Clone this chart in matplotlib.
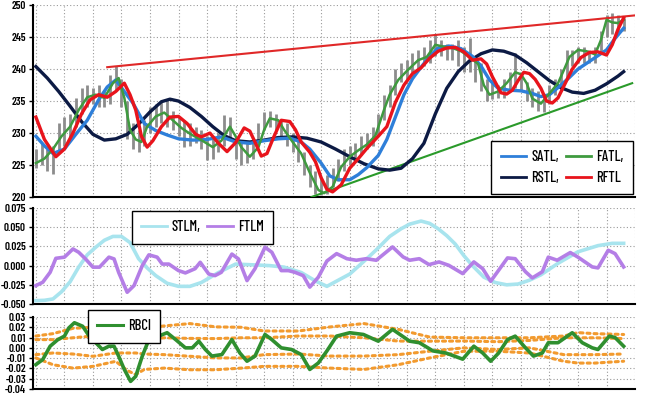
import numpy as np
import matplotlib
matplotlib.use('Agg')
import matplotlib.pyplot as plt
from matplotlib.lines import Line2D

plt.rcParams['font.family'] = ['Barlow Condensed', 'DejaVu Sans']

# ---------------- price bars (every 2nd bar): low / high ----------------
bar_low = [224.5, 225, 224, 223.6, 227, 228, 229, 231, 233, 234,
           234.5, 234, 234, 234.5, 236.5, 234, 229, 227.5, 227, 228,
           230, 231, 231.5, 231, 230.5, 229.5, 227.8, 228, 228.5, 227.5,
           225.8, 226, 227, 228, 229, 226, 225, 225.3, 226, 228,
           230.5, 231, 230.5, 229.5, 228, 227, 225.5, 223.5, 221.5, 220.5,
           220.3, 220.5, 221.5, 222.5, 224, 225, 225.5, 226.5, 227.5, 228,
           229.5, 232, 234, 236, 238, 238.5, 239.5, 240, 240.5, 241,
           242, 242, 241.5, 241.5, 240.5, 239.5, 239.5, 238, 236.5, 235,
           235.3, 235.5, 235.5, 236.5, 237, 236.5, 235, 234, 233.5, 233.3,
           234.5, 236, 236.5, 238.5, 240.5, 241, 241, 241, 241, 242.5,
           245, 245.5, 245.5, 246]
bar_high = [227.5, 228.5, 227.5, 228, 231.5, 232.5, 233, 235.5, 237, 237.5,
            237, 237.5, 236.5, 239, 240.5, 238.5, 235, 231.5, 230.5, 232,
            234, 234.5, 235, 235.2, 233.5, 232.5, 232, 231.5, 231, 230.5,
            229.5, 229.5, 230, 232.8, 232.5, 229.5, 228.5, 228.5, 229, 231.5,
            233.3, 233.5, 233, 232, 231.5, 230, 229, 227, 225, 224,
            223, 223.5, 224.5, 226, 227.5, 228, 228.5, 229.5, 230, 231,
            233, 236, 237.5, 240, 241, 241.5, 242.5, 243, 243.5, 244.5,
            245.5, 244.5, 244, 244, 244.5, 243.5, 244.8, 242, 241, 238.5,
            238, 237.5, 238.5, 239.5, 242.5, 239.5, 238, 237, 236.5, 236,
            237.5, 238.5, 240, 243, 243, 243.5, 243.5, 243, 243.5, 246,
            248.5, 248.8, 248.5, 248]

# ---------------- smoothed lines on price ----------------
satl_x = [0, 3, 6, 10, 14, 18, 22, 25, 28, 31, 34, 38, 42, 46, 50, 55, 60, 65,
          70, 75, 80, 85, 89, 93, 96, 100, 103, 106, 110, 113, 116, 120, 123,
          126, 129, 132, 135, 138, 141, 145, 149, 153, 156, 159, 162, 166, 170,
          174, 177, 180, 183, 187, 190, 194, 197, 200, 203, 206]
satl_y = [229.5, 228, 226.8, 227.5, 229.8, 232, 235.2, 237.2, 238.3, 236.5,
          234.7, 231.5, 230.4, 229.7, 229.1, 228.9, 229, 229.4, 228.6, 228.4,
          228.8, 229.1, 229.2, 228.6, 227.5, 225.3, 223.3, 222.7, 222.7, 223.5,
          224.6, 226.5, 229, 232.5, 236, 238.5, 240.3, 242, 243.3, 243.6,
          243.2, 242, 240.5, 238.3, 237, 236.7, 236.6, 236.2, 235.7, 236,
          237.1, 238.7, 240, 241.2, 242.1, 243, 244.8, 246.4]

fatl_x = [0, 3, 6, 9, 12, 15, 18, 21, 24, 27, 29, 31, 33, 35, 37, 39, 42, 45,
          48, 51, 54, 58, 62, 65, 68, 70, 72, 75, 78, 80, 82, 85, 87, 90, 93,
          96, 99, 101, 104, 107, 110, 113, 116, 119, 122, 124, 127, 130, 134,
          137, 140, 143, 146, 149, 152, 155, 157, 159, 162, 165, 168, 170, 172,
          174, 177, 180, 183, 185, 187, 190, 193, 196, 198, 200, 202, 204, 206]
fatl_y = [225.3, 226, 227.5, 229.5, 231, 233.6, 235.6, 236, 235.5, 237.8,
          238.6, 235.5, 230.5, 229, 228.6, 231, 232.6, 233.2, 232, 230.8,
          229.9, 228.9, 227.8, 228.8, 231, 229.5, 227.8, 226.3, 227.8, 230.5,
          232.3, 232, 230.5, 228.6, 226.8, 223.8, 221.1, 220.6, 221.6, 224.7,
          226.3, 227.3, 228.2, 229.6, 233.6, 236, 238.3, 239.7, 241.4, 241.9,
          243.8, 243.5, 243.3, 242.8, 241.9, 240.8, 237.5, 236, 236.5, 237.8,
          239.5, 239.2, 237.8, 235.4, 234.6, 236.2, 237.8, 239.8, 241.9, 243,
          242.8, 242.3, 244.5, 247.7, 247.3, 247.2, 247.7]

rstl_x = [0, 4, 8, 12, 16, 20, 24, 28, 32, 36, 40, 44, 47, 50, 54, 58, 62, 66,
          70, 75, 80, 85, 90, 95, 100, 105, 110, 115, 120, 124, 128, 132, 136,
          140, 144, 148, 152, 156, 160, 164, 168, 172, 176, 180, 184, 188, 192,
          196, 200, 204, 206]
rstl_y = [240.4, 238.6, 236.5, 234.2, 231.8, 229.8, 228.9, 229.1, 229.8, 231.4,
          233.3, 234.9, 235.3, 235, 234, 232.6, 231, 229.6, 228.8, 228.6,
          228.9, 229.3, 229.4, 229.2, 228.6, 227.5, 226.3, 225.2, 224.4, 224.2,
          224.5, 226, 228.4, 233, 237, 239.6, 241.3, 242.4, 243, 242.8,
          242.2, 241, 239.6, 238.2, 237.1, 236.4, 236.2, 236.7, 237.7, 238.9,
          239.6]

rftl_x = [0, 3, 7, 10, 13, 16, 19, 22, 25, 28, 31, 33, 35, 37, 39, 41, 44, 47,
          50, 53, 56, 58, 61, 64, 67, 70, 73, 75, 77, 79, 81, 83, 86, 89, 91,
          93, 96, 98, 100, 102, 104, 107, 110, 113, 116, 120, 123, 126, 129,
          132, 135, 138, 141, 144, 147, 150, 153, 156, 158, 160, 163, 165, 167,
          169, 171, 173, 175, 177, 179, 181, 183, 185, 188, 191, 194, 197, 200,
          202, 204, 206]
rftl_y = [232.5, 229, 226.3, 227.5, 230, 233, 235.2, 236, 235.6, 236.5,
          237.8, 236, 233.6, 229.5, 227.8, 228.8, 231, 232.5, 232.6, 231.5,
          229.8, 229.4, 230, 228.4, 227.1, 228.5, 230.8, 230.3, 228.4, 226.4,
          226.8, 229, 232, 231.8, 230.5, 228.6, 227, 225.5, 223, 221.2,
          220.8, 221.9, 224.5, 226, 227.6, 229.5, 231, 234.8, 237.5, 239.3,
          240.2, 241.7, 242.8, 243.3, 243.4, 242.7, 241.4, 241.6, 240.8, 238.8,
          236.3, 236.1, 236.7, 238.2, 239.5, 239.3, 238.4, 237, 235, 234.7,
          235.5, 237.3, 240, 241.8, 242.6, 242.7, 242.2, 243.8, 246.2, 248]

# trend lines (start / end)
res_x = [25, 210]
res_y = [240.3, 248.4]
sup_x = [96.6, 209]
sup_y = [220, 237.8]

# ---------------- STLM / FTLM ----------------
stlm_x = [0, 3, 6, 9, 12, 15, 18, 21, 24, 27, 30, 33, 36, 39, 42, 46, 50, 54,
          58, 64, 70, 76, 82, 87, 93, 98, 102, 106, 110, 116, 120, 124, 128,
          131, 135, 138, 141, 144, 147, 150, 153, 157, 161, 165, 169, 173, 177,
          183, 190, 197, 202, 206]
stlm_y = [-0.0456, -0.0452, -0.0434, -0.034, -0.021, -0.002, 0.014, 0.024,
          0.033, 0.038, 0.038, 0.030, 0.009, -0.003, -0.013, -0.023, -0.027,
          -0.027, -0.022, -0.009, 0.002, 0.001, 0.0, -0.002, -0.009, -0.020,
          -0.027, -0.019, -0.011, 0.009, 0.023, 0.038, 0.048, 0.054, 0.058,
          0.055, 0.048, 0.039, 0.028, 0.013, 0.0, -0.015, -0.022, -0.025,
          -0.024, -0.019, -0.012, 0.003, 0.018, 0.026, 0.029, 0.029]

ftlm_x = [0, 2.4, 5, 7, 10, 13, 15, 17.4, 20, 22.3, 25.6, 27.4, 29, 32, 34.4,
          37.3, 39.6, 42.5, 44.3, 46.6, 50, 52.4, 55.8, 57.6, 60.6, 62.8, 65,
          68.7, 71, 74, 76.8, 80.3, 82.7, 86, 88.5, 90.8, 93.7, 96, 99, 102,
          105.4, 109, 112.3, 115.8, 119.3, 125, 128.7, 131, 134.4, 137.8, 141.3,
          144.7, 149.6, 153.5, 156.6, 159.4, 162.2, 165.3, 168, 171.6, 174,
          177.5, 179.6, 182.7, 187.3, 190, 195, 197, 200.6, 203, 206]
ftlm_y = [-0.026, -0.0217, -0.0087, 0.0095, 0.011, 0.0217, 0.0174, 0.0087,
          -0.002, -0.002, 0.011, 0.0087, -0.0087, -0.0347, -0.026, 0.0, 0.014,
          0.011, 0.002, 0.002, -0.0065, -0.0095, -0.004, 0.0043, -0.011,
          -0.013, -0.0087, 0.015, 0.0087, -0.0195, -0.004, 0.0239, 0.0174,
          -0.0065, -0.0065, -0.0087, -0.013, -0.028, -0.015, 0.006, 0.0156,
          0.009, 0.007, 0.009, 0.007, 0.0243, 0.0113, 0.007, 0.009, 0.0013,
          0.0048, 0.0004, -0.0104, 0.0048, -0.004, -0.0204, -0.006, 0.010,
          0.009, -0.008, -0.016, -0.008, 0.011, 0.007, 0.017, 0.011, -0.0017,
          -0.003, 0.020, 0.0156, -0.0017]

# ---------------- RBCI and its bands ----------------
rbci_x = [0, 2.4, 5, 7.7, 10, 11.6, 13.5, 16.4, 18.7, 21, 23.3, 25.6, 27.4, 29,
          31, 33.2, 35, 37.3, 39.6, 43, 46, 49, 52.4, 54.8, 57.1, 59.4, 61.7,
          65.2, 68.7, 71.5, 74, 76.8, 80.3, 82.7, 86, 89.6, 93, 96, 99, 102,
          105.4, 110, 114.8, 120, 125, 131, 134.4, 139.2, 143.7, 149.6, 153.5,
          156.6, 159.4, 162.2, 165.3, 168, 171.6, 174.4, 177.5, 179.6, 183, 188,
          191.5, 195, 197, 201, 203, 206]
rbci_y = [-0.0163, -0.0114, 0.0016, 0.008, 0.0114, 0.0195, 0.0244, 0.021,
          0.0114, 0.005, -0.0016, 0.0016, 0.0016, -0.008, -0.021, -0.0326,
          -0.0277, -0.008, 0.008, 0.0114, 0.0147, 0.008, 0.0, 0.0, 0.0065,
          -0.0016, -0.008, -0.0065, 0.008, -0.005, -0.013, -0.008, 0.013, 0.008,
          0.0, -0.0016, -0.0065, -0.021, -0.0147, -0.003, 0.0114, 0.0147, 0.013,
          0.0065, 0.018, 0.0065, 0.005, -0.003, -0.005, -0.011, 0.0016, -0.005,
          -0.013, -0.005, 0.008, 0.0114, 0.0, -0.008, -0.005, 0.005, 0.005,
          0.0147, 0.005, 0.0, -0.0016, 0.0114, 0.010, 0.0016]

band_x = [0, 6, 13, 20, 28, 32, 35, 38, 45, 54, 63, 72, 80, 92, 103, 115, 127,
          138, 150, 162, 173, 185, 190, 196, 206]
band1 = [0.0115, 0.0138, 0.019, 0.020, 0.019, 0.018, 0.018, 0.019, 0.0213,
         0.0236, 0.0204, 0.020, 0.0164, 0.0164, 0.0203, 0.0236, 0.018, 0.0105,
         0.0098, 0.0098, 0.0098, 0.0115, 0.0148, 0.0138, 0.013]
band2 = [0.008, 0.008, 0.0098, 0.0115, 0.0098, 0.0075, 0.0066, 0.008, 0.0098,
         0.0092, 0.009, 0.0098, 0.0098, 0.0115, 0.0115, 0.0098, 0.0066, 0.0065,
         0.0066, 0.006, 0.0072, 0.0098, 0.0098, 0.0098, 0.009]
band3 = [-0.0066, -0.005, -0.006, -0.0082, -0.005, -0.005, -0.005, -0.006,
         -0.0066, -0.0082, -0.0098, -0.0098, -0.0066, -0.006, -0.008, -0.008,
         -0.0066, -0.0033, 0.0, -0.0016, 0.0, -0.0066, -0.0066, -0.0066, -0.006]
band4 = [-0.0098, -0.0164, -0.0197, -0.018, -0.0131, -0.022, -0.026, -0.021,
         -0.0197, -0.0213, -0.0213, -0.0197, -0.018, -0.018, -0.0197, -0.021,
         -0.0164, -0.0098, -0.0033, -0.0033, -0.005, -0.013, -0.0148, -0.0148,
         -0.013]

price_ticks = [220, 225, 230, 235, 240, 245, 250]
mom_ticks = [-0.050, -0.025, 0.0, 0.025, 0.050, 0.075]
rbci_ticks = [-0.04, -0.03, -0.02, -0.01, 0.0, 0.01, 0.02, 0.03]

bar_idx = np.arange(0, 2 * len(bar_low), 2)

fig = plt.figure(figsize=(6.5, 3.96), dpi=100)
ax1 = fig.add_axes([0.0508, 0.5025, 0.9262, 0.4845])
ax2 = fig.add_axes([0.0508, 0.2323, 0.9262, 0.2424])
ax3 = fig.add_axes([0.0508, 0.0177, 0.9262, 0.1818])


def style(ax, lim, ticks, labels):
    ax.set_xlim(-1, 210)
    ax.set_ylim(*lim)
    ax.set_xticks(np.arange(0, 211, 10))
    ax.set_xticklabels([])
    ax.tick_params(axis='x', length=0)
    ax.set_yticks(ticks)
    ax.set_yticklabels(labels, fontsize=8, fontweight='semibold')
    ax.tick_params(axis='y', length=3, width=1, pad=2, colors='black')
    ax.grid(True, color='#9a9a9a', linestyle=(0, (1, 2)), linewidth=0.8)
    ax.set_axisbelow(True)
    for s in ['top', 'right']:
        ax.spines[s].set_visible(False)
    ax.spines['left'].set_linewidth(1.5)
    ax.spines['bottom'].set_linewidth(1.5)


def leg(ax, handles, labels, ncol, loc, anchor):
    lg = ax.legend(handles, labels, ncol=ncol, loc=loc, bbox_to_anchor=anchor,
                   fancybox=False, framealpha=1, edgecolor='black',
                   prop={'family': 'Barlow Condensed', 'size': 10.5, 'weight': 'medium'},
                   handlelength=1.75, columnspacing=0.45,
                   handletextpad=0.35, borderaxespad=0, borderpad=0.65,
                   labelspacing=0.45)
    lg.get_frame().set_linewidth(1.0)
    return lg


# --- top panel: price
style(ax1, (220, 250), price_ticks, [str(t) for t in price_ticks])
ax1.vlines(bar_idx, bar_low, bar_high, color='#8c8c8c', linewidth=2.0, zorder=2)
ax1.plot(res_x, res_y, color='#e02828', linewidth=1.5, zorder=3)
ax1.plot(sup_x, sup_y, color='#2a9a2a', linewidth=1.5, zorder=3)
ax1.plot(rstl_x, rstl_y, color='#0c1a44', linewidth=2.4, zorder=4)
ax1.plot(satl_x, satl_y, color='#2e7fd9', linewidth=2.4, zorder=5)
ax1.plot(fatl_x, fatl_y, color='#3f9a3f', linewidth=1.8, zorder=6)
ax1.plot(rftl_x, rftl_y, color='#e8141c', linewidth=2.4, zorder=7)

h = [Line2D([], [], color='#2e7fd9', lw=2), Line2D([], [], color='#0c1a44', lw=2),
     Line2D([], [], color='#3f9a3f', lw=2), Line2D([], [], color='#e8141c', lw=2)]
leg(ax1, h, ['SATL,', 'RSTL,', 'FATL,', 'RFTL'], 2, 'lower right', (0.997, 0.015))

# --- middle panel: momentum
style(ax2, (-0.050, 0.075), mom_ticks, ['%.3f' % t for t in mom_ticks])
ax2.plot(stlm_x, stlm_y, color='#a8e4ee', linewidth=2.6, zorder=4)
ax2.plot(ftlm_x, ftlm_y, color='#b47ee6', linewidth=2.6, zorder=5)
h = [Line2D([], [], color='#a8e4ee', lw=2), Line2D([], [], color='#b47ee6', lw=2)]
leg(ax2, h, ['STLM,', 'FTLM'], 2, 'upper left', (0.164, 0.969))

# --- bottom panel: RBCI
style(ax3, (-0.04, 0.03), rbci_ticks, ['%.2f' % t for t in rbci_ticks])
for b in [band1, band2, band3, band4]:
    ax3.plot(band_x, b, color='#f29a2e', linewidth=2.2, linestyle=(0, (1, 1.3)),
             dash_capstyle='round', zorder=3)
ax3.plot(rbci_x, rbci_y, color='#2f8f2f', linewidth=2.6, zorder=5)
h = [Line2D([], [], color='#2f8f2f', lw=2.2)]
lg = leg(ax3, h, ['RBCI'], 1, 'upper left', (0.091, 1.097))
lg.set_zorder(10)

fig.savefig('out.png', dpi=100)
